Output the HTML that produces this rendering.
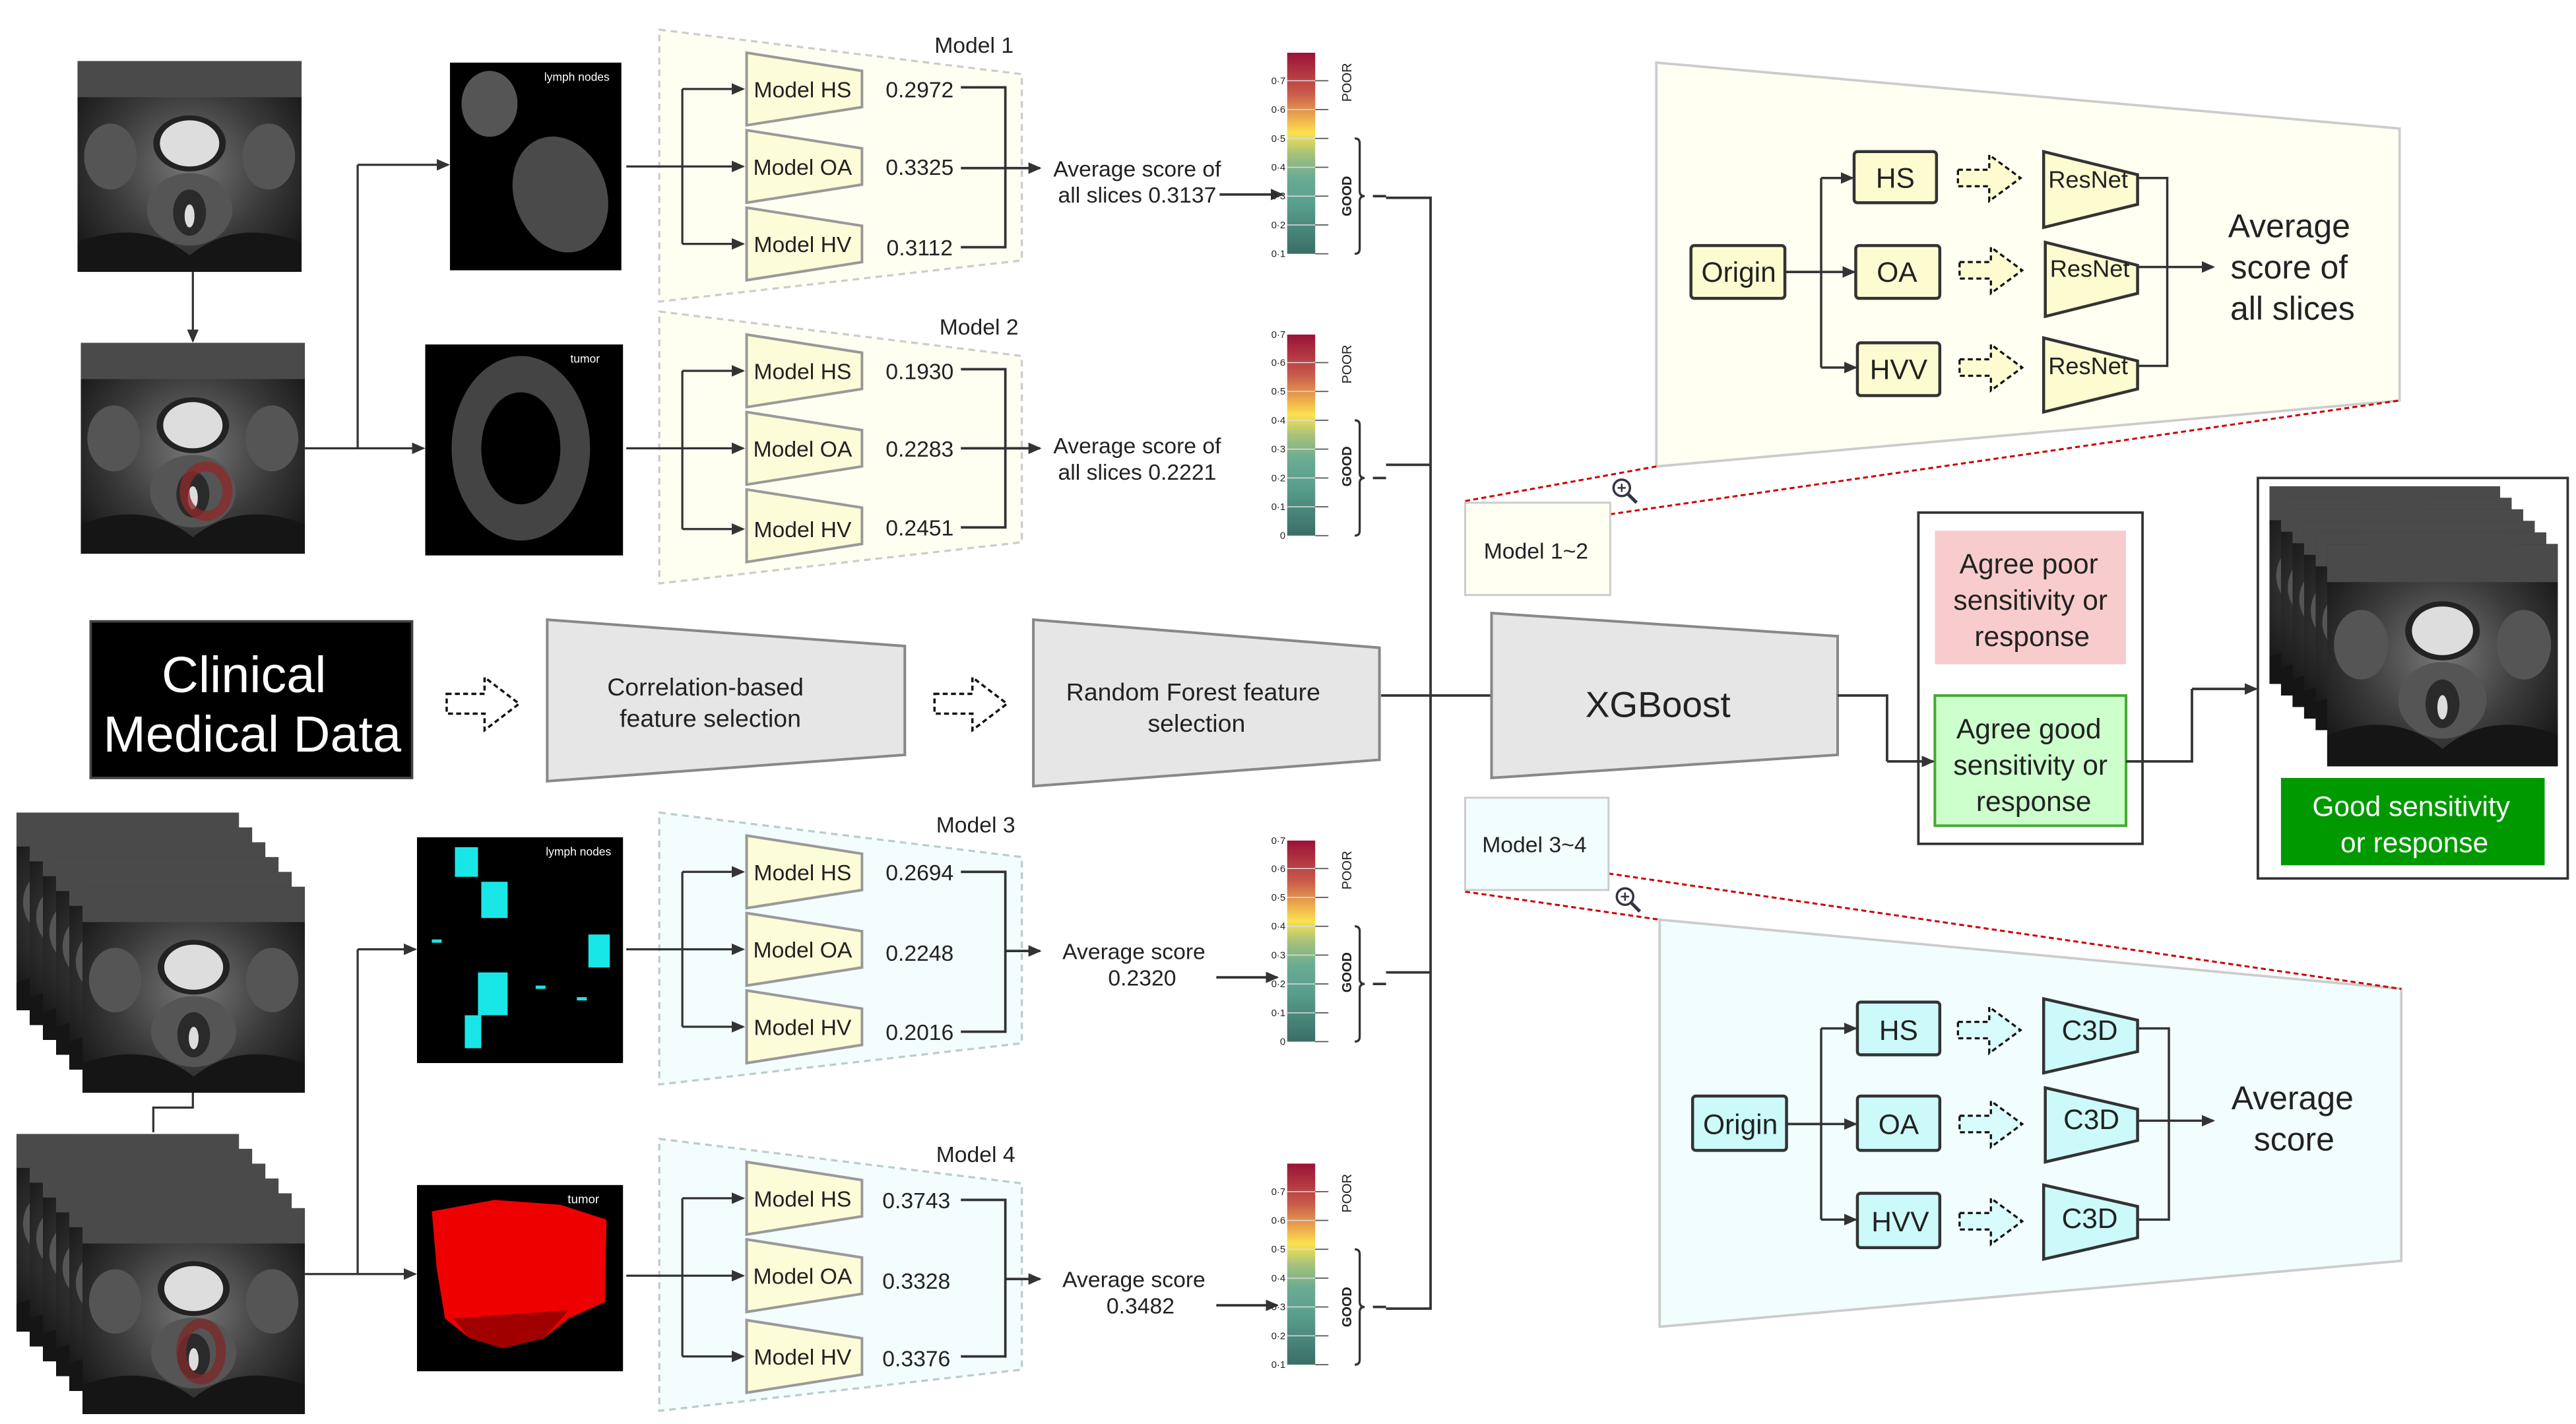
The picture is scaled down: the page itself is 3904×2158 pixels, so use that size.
<!DOCTYPE html>
<html><head><meta charset="utf-8"><style>
html,body{margin:0;padding:0;background:#fff;}
svg{display:block;}
text{font-family:"Liberation Sans",sans-serif;fill:#222;}
</style></head><body>
<svg width="3904" height="2158" viewBox="0 0 1563 864" xmlns="http://www.w3.org/2000/svg">
<defs>
<marker id="ar" markerWidth="8" markerHeight="8" refX="7" refY="4" orient="auto" markerUnits="userSpaceOnUse"><path d="M0,0.5 L8,4 L0,7.5Z" fill="#333"/></marker>
<linearGradient id="cb" x1="0" y1="0" x2="0" y2="1">
<stop offset="0" stop-color="#9b1237"/><stop offset="0.2" stop-color="#c85a4b"/><stop offset="0.33" stop-color="#eeb04d"/><stop offset="0.4" stop-color="#fbe24d"/><stop offset="0.5" stop-color="#a8c27a"/><stop offset="0.62" stop-color="#6aab93"/><stop offset="0.75" stop-color="#5a9f8e"/><stop offset="1" stop-color="#3a6e66"/></linearGradient>
<radialGradient id="mr" cx="0.5" cy="0.5" r="0.6"><stop offset="0" stop-color="#777"/><stop offset="0.6" stop-color="#3a3a3a"/><stop offset="1" stop-color="#1a1a1a"/></radialGradient>
<symbol id="mri" viewBox="0 0 136 128" preserveAspectRatio="none">
<rect width="136" height="128" fill="url(#mr)"/>
<rect width="136" height="22" fill="#4a4a4a"/>
<ellipse cx="20" cy="58" rx="16" ry="20" fill="#555"/><ellipse cx="116" cy="58" rx="16" ry="20" fill="#555"/>
<ellipse cx="68" cy="50" rx="22" ry="17" fill="#222"/><ellipse cx="68" cy="50" rx="18" ry="14" fill="#ddd"/>
<ellipse cx="68" cy="90" rx="26" ry="22" fill="#555"/><ellipse cx="68" cy="92" rx="10" ry="14" fill="#2a2a2a"/><ellipse cx="68" cy="94" rx="3" ry="7" fill="#ddd"/>
<path d="M0,110 Q40,95 68,118 Q96,95 136,110 L136,128 L0,128Z" fill="#151515"/>
</symbol>
<symbol id="bar" viewBox="0 0 60 130" overflow="visible">
<rect x="0" y="0" width="17" height="122" fill="url(#cb)"/>
<g stroke="#ddd" stroke-width="0.6"><line x1="0" y1="17" x2="17" y2="17"/><line x1="0" y1="34.5" x2="17" y2="34.5"/><line x1="0" y1="52" x2="17" y2="52"/><line x1="0" y1="69.5" x2="17" y2="69.5"/><line x1="0" y1="87" x2="17" y2="87"/><line x1="0" y1="104.5" x2="17" y2="104.5"/></g>
<g stroke="#555" stroke-width="0.7"><line x1="17" y1="17" x2="25" y2="17"/><line x1="17" y1="34.5" x2="25" y2="34.5"/><line x1="17" y1="52" x2="25" y2="52"/><line x1="17" y1="69.5" x2="25" y2="69.5"/><line x1="17" y1="87" x2="25" y2="87"/><line x1="17" y1="104.5" x2="25" y2="104.5"/><line x1="17" y1="122" x2="25" y2="122"/></g>
<path d="M41,52 Q44,52 44,55 L44,84 Q44,87 47,87 Q44,87 44,90 L44,119 Q44,122 41,122" fill="none" stroke="#333" stroke-width="1.3"/>
<line x1="52" y1="87" x2="60" y2="87" stroke="#333" stroke-width="1.5"/>
</symbol>
<symbol id="mb" viewBox="0 0 72 46" overflow="visible"><path d="M1,1 L71,12 L71,34 L1,45Z" fill="#fdfcd8" stroke="#999" stroke-width="1.6"/></symbol>
<symbol id="da" viewBox="0 0 46 34" overflow="visible"><path d="M1,11 L24,11 L24,1 L45,17 L24,33 L24,23 L1,23Z" fill="none" stroke="#111" stroke-width="1.4" stroke-dasharray="3,2"/></symbol>
<symbol id="dy" viewBox="0 0 40 30" overflow="visible"><path d="M1,10 L20,10 L20,1 L39,15 L20,29 L20,20 L1,20Z" fill="#fdfcd0" stroke="#111" stroke-width="1.3" stroke-dasharray="3,2"/></symbol>
<symbol id="dc" viewBox="0 0 40 30" overflow="visible"><path d="M1,10 L20,10 L20,1 L39,15 L20,29 L20,20 L1,20Z" fill="#d8fbfb" stroke="#111" stroke-width="1.3" stroke-dasharray="3,2"/></symbol>
</defs>

<use href="#mri" x="47" y="37" width="136" height="128"/>
<use href="#mri" x="49" y="208" width="136" height="128"/>
<ellipse cx="125" cy="298" rx="13" ry="15" fill="none" stroke="#8a2a2a" stroke-width="6" opacity="0.8"/>
<line x1="117" y1="165" x2="117" y2="207" stroke="#333" stroke-width="1.3" marker-end="url(#ar)"/>
<rect x="273" y="38" width="104" height="126" fill="#000"/>
<ellipse cx="297" cy="63" rx="17" ry="20" fill="#555"/><ellipse cx="340" cy="118" rx="28" ry="36" fill="#4a4a4a" transform="rotate(-20 340 118)"/>
<text x="350" y="49" font-size="7" style="fill:#fff" text-anchor="middle">lymph nodes</text>
<rect x="258" y="209" width="120" height="128" fill="#000"/>
<ellipse cx="316" cy="272" rx="42" ry="56" fill="#444"/><ellipse cx="316" cy="272" rx="24" ry="34" fill="#000"/>
<text x="355" y="220" font-size="7" style="fill:#fff" text-anchor="middle">tumor</text>
<path d="M185,272 L217,272 M217,100 L217,272" stroke="#333" stroke-width="1.3" fill="none"/>
<line x1="217" y1="100" x2="272" y2="100" stroke="#333" stroke-width="1.3" marker-end="url(#ar)"/>
<line x1="217" y1="272" x2="257" y2="272" stroke="#333" stroke-width="1.3" marker-end="url(#ar)"/>

<g>
<use href="#mri" x="10" y="493" width="135" height="120"/><use href="#mri" x="18" y="502" width="135" height="120"/><use href="#mri" x="26" y="511" width="135" height="120"/><use href="#mri" x="34" y="520" width="135" height="120"/><use href="#mri" x="42" y="529" width="135" height="120"/><use href="#mri" x="50" y="538" width="135" height="125"/>
<use href="#mri" x="10" y="688" width="135" height="120"/><use href="#mri" x="18" y="697" width="135" height="120"/><use href="#mri" x="26" y="706" width="135" height="120"/><use href="#mri" x="34" y="715" width="135" height="120"/><use href="#mri" x="42" y="724" width="135" height="120"/><use href="#mri" x="50" y="733" width="135" height="125"/>
<ellipse cx="122" cy="820" rx="12" ry="17" fill="none" stroke="#7a2a2a" stroke-width="6" opacity="0.8"/>
</g>
<path d="M117,663 L117,672 L93,672 L93,687" stroke="#333" stroke-width="1.3" fill="none"/>
<path d="M185,773 L217,773 M217,576 L217,773" stroke="#333" stroke-width="1.3" fill="none"/>
<line x1="217" y1="576" x2="252" y2="576" stroke="#333" stroke-width="1.3" marker-end="url(#ar)"/>
<line x1="217" y1="773" x2="252" y2="773" stroke="#333" stroke-width="1.3" marker-end="url(#ar)"/>
<rect x="253" y="508" width="125" height="137" fill="#000"/>
<g fill="#19e6e6"><rect x="276" y="514" width="14" height="18"/><rect x="292" y="535" width="16" height="22"/><rect x="357" y="567" width="13" height="20"/><rect x="290" y="590" width="18" height="26"/><rect x="282" y="616" width="10" height="20"/><rect x="262" y="570" width="6" height="2"/><rect x="325" y="598" width="6" height="2"/><rect x="350" y="605" width="6" height="2"/></g>
<text x="351" y="519" font-size="7" style="fill:#fff" text-anchor="middle">lymph nodes</text>
<rect x="253" y="719" width="125" height="113" fill="#000"/>
<path d="M262,735 L300,728 L340,731 L368,740 L367,790 L345,800 L330,812 L305,818 L285,812 L270,800 L265,770Z" fill="#ee0000"/>
<path d="M275,800 L345,795 L330,812 L305,818 L285,812Z" fill="#a00000"/>
<text x="354" y="730" font-size="7.5" style="fill:#fff" text-anchor="middle">tumor</text>

<g>
<path d="M400,18 L620,45 L620,158 L400,183Z" fill="#fffff1" stroke="#ccc" stroke-width="1.3" stroke-dasharray="4,3"/>
<text x="591" y="32" font-size="13.5" text-anchor="middle">Model 1</text>
<use href="#mb" x="452" y="31" width="72" height="46"/><use href="#mb" x="452" y="78" width="72" height="46"/><use href="#mb" x="452" y="125" width="72" height="46"/>
<text x="487" y="59" font-size="13.5" text-anchor="middle">Model HS</text>
<text x="487" y="106" font-size="13.5" text-anchor="middle">Model OA</text>
<text x="487" y="153" font-size="13.5" text-anchor="middle">Model HV</text>
<text x="558" y="59" font-size="13.5" text-anchor="middle">0.2972</text>
<text x="558" y="106" font-size="13.5" text-anchor="middle">0.3325</text>
<text x="558" y="155" font-size="13.5" text-anchor="middle">0.3112</text>
<path d="M380,101 L414,101 M414,54 L414,148" stroke="#333" stroke-width="1.3" fill="none"/>
<line x1="414" y1="54" x2="451" y2="54" stroke="#333" stroke-width="1.3" marker-end="url(#ar)"/>
<line x1="414" y1="101" x2="451" y2="101" stroke="#333" stroke-width="1.3" marker-end="url(#ar)"/>
<line x1="414" y1="148" x2="451" y2="148" stroke="#333" stroke-width="1.3" marker-end="url(#ar)"/>
<path d="M583,53 L610,53 L610,150 L583,150" stroke="#333" stroke-width="1.5" fill="none"/>
<line x1="583" y1="102" x2="631" y2="102" stroke="#333" stroke-width="1.5" marker-end="url(#ar)"/>
<text x="690" y="107" font-size="13.5" text-anchor="middle">Average score  of</text>
<text x="690" y="123" font-size="13.5" text-anchor="middle">all slices 0.3137</text>
<line x1="740" y1="118" x2="778" y2="118" stroke="#333" stroke-width="1.5" marker-end="url(#ar)"/>
</g>
<g transform="translate(0,171)">
<path d="M400,18 L620,45 L620,158 L400,183Z" fill="#fffff1" stroke="#ccc" stroke-width="1.3" stroke-dasharray="4,3"/>
<text x="594" y="32" font-size="13.5" text-anchor="middle">Model 2</text>
<use href="#mb" x="452" y="31" width="72" height="46"/><use href="#mb" x="452" y="78" width="72" height="46"/><use href="#mb" x="452" y="125" width="72" height="46"/>
<text x="487" y="59" font-size="13.5" text-anchor="middle">Model HS</text>
<text x="487" y="106" font-size="13.5" text-anchor="middle">Model OA</text>
<text x="487" y="155" font-size="13.5" text-anchor="middle">Model HV</text>
<text x="558" y="59" font-size="13.5" text-anchor="middle">0.1930</text>
<text x="558" y="106" font-size="13.5" text-anchor="middle">0.2283</text>
<text x="558" y="154" font-size="13.5" text-anchor="middle">0.2451</text>
<path d="M380,101 L414,101 M414,54 L414,150" stroke="#333" stroke-width="1.3" fill="none"/>
<line x1="414" y1="54" x2="451" y2="54" stroke="#333" stroke-width="1.3" marker-end="url(#ar)"/>
<line x1="414" y1="101" x2="451" y2="101" stroke="#333" stroke-width="1.3" marker-end="url(#ar)"/>
<line x1="414" y1="150" x2="451" y2="150" stroke="#333" stroke-width="1.3" marker-end="url(#ar)"/>
<path d="M583,53 L610,53 L610,149 L583,149" stroke="#333" stroke-width="1.5" fill="none"/>
<line x1="583" y1="101" x2="631" y2="101" stroke="#333" stroke-width="1.5" marker-end="url(#ar)"/>
<text x="690" y="104" font-size="13.5" text-anchor="middle">Average score  of</text>
<text x="690" y="120" font-size="13.5" text-anchor="middle">all slices 0.2221</text>
</g>
<g transform="translate(0,475)">
<path d="M400,18 L620,45 L620,158 L400,183Z" fill="#f3fdfd" stroke="#bcc" stroke-width="1.3" stroke-dasharray="4,3"/>
<text x="592" y="30" font-size="13.5" text-anchor="middle">Model 3</text>
<use href="#mb" x="452" y="31" width="72" height="46"/><use href="#mb" x="452" y="78" width="72" height="46"/><use href="#mb" x="452" y="125" width="72" height="46"/>
<text x="487" y="59" font-size="13.5" text-anchor="middle">Model HS</text>
<text x="487" y="106" font-size="13.5" text-anchor="middle">Model OA</text>
<text x="487" y="153" font-size="13.5" text-anchor="middle">Model HV</text>
<text x="558" y="59" font-size="13.5" text-anchor="middle">0.2694</text>
<text x="558" y="108" font-size="13.5" text-anchor="middle">0.2248</text>
<text x="558" y="156" font-size="13.5" text-anchor="middle">0.2016</text>
<path d="M380,101 L414,101 M414,54 L414,148" stroke="#333" stroke-width="1.3" fill="none"/>
<line x1="414" y1="54" x2="451" y2="54" stroke="#333" stroke-width="1.3" marker-end="url(#ar)"/>
<line x1="414" y1="101" x2="451" y2="101" stroke="#333" stroke-width="1.3" marker-end="url(#ar)"/>
<line x1="414" y1="148" x2="451" y2="148" stroke="#333" stroke-width="1.3" marker-end="url(#ar)"/>
<path d="M583,54 L610,54 L610,151 L583,151" stroke="#333" stroke-width="1.5" fill="none"/>
<line x1="610" y1="102" x2="631" y2="102" stroke="#333" stroke-width="1.5" marker-end="url(#ar)"/>
<text x="688" y="107" font-size="13.5" text-anchor="middle">Average score</text>
<text x="693" y="123" font-size="13.5" text-anchor="middle">0.2320</text>
<line x1="738" y1="118" x2="775" y2="118" stroke="#333" stroke-width="1.5" marker-end="url(#ar)"/>
</g>
<g transform="translate(0,673)">
<path d="M400,18 L620,45 L620,158 L400,183Z" fill="#f3fdfd" stroke="#bcc" stroke-width="1.3" stroke-dasharray="4,3"/>
<text x="592" y="32" font-size="13.5" text-anchor="middle">Model 4</text>
<use href="#mb" x="452" y="31" width="72" height="46"/><use href="#mb" x="452" y="78" width="72" height="46"/><use href="#mb" x="452" y="127" width="72" height="46"/>
<text x="487" y="59" font-size="13.5" text-anchor="middle">Model HS</text>
<text x="487" y="106" font-size="13.5" text-anchor="middle">Model OA</text>
<text x="487" y="155" font-size="13.5" text-anchor="middle">Model HV</text>
<text x="556" y="60" font-size="13.5" text-anchor="middle">0.3743</text>
<text x="556" y="109" font-size="13.5" text-anchor="middle">0.3328</text>
<text x="556" y="156" font-size="13.5" text-anchor="middle">0.3376</text>
<path d="M380,101 L414,101 M414,54 L414,150" stroke="#333" stroke-width="1.3" fill="none"/>
<line x1="414" y1="54" x2="451" y2="54" stroke="#333" stroke-width="1.3" marker-end="url(#ar)"/>
<line x1="414" y1="101" x2="451" y2="101" stroke="#333" stroke-width="1.3" marker-end="url(#ar)"/>
<line x1="414" y1="150" x2="451" y2="150" stroke="#333" stroke-width="1.3" marker-end="url(#ar)"/>
<path d="M583,55 L610,55 L610,150 L583,150" stroke="#333" stroke-width="1.5" fill="none"/>
<line x1="610" y1="103" x2="631" y2="103" stroke="#333" stroke-width="1.5" marker-end="url(#ar)"/>
<text x="688" y="108" font-size="13.5" text-anchor="middle">Average score</text>
<text x="692" y="124" font-size="13.5" text-anchor="middle">0.3482</text>
<line x1="738" y1="119" x2="775" y2="119" stroke="#333" stroke-width="1.5" marker-end="url(#ar)"/>
</g>

<g>
<use href="#bar" x="781" y="32" width="60" height="130"/>
<g font-size="6" fill="#555" text-anchor="end"><text x="780" y="51">0·7</text><text x="780" y="68.5">0·6</text><text x="780" y="86">0·5</text><text x="780" y="103.5">0·4</text><text x="780" y="121">0·3</text><text x="780" y="138.5">0·2</text><text x="780" y="156">0·1</text></g>
<text transform="translate(820,50) rotate(-90)" font-size="8" text-anchor="middle">POOR</text>
<text transform="translate(820,119) rotate(-90)" font-size="8" font-weight="bold" text-anchor="middle">GOOD</text>
</g>
<g transform="translate(0,171)">
<use href="#bar" x="781" y="32" width="60" height="130"/>
<g font-size="6" fill="#555" text-anchor="end"><text x="780" y="34">0·7</text><text x="780" y="51">0·6</text><text x="780" y="68.5">0·5</text><text x="780" y="86">0·4</text><text x="780" y="103.5">0·3</text><text x="780" y="121">0·2</text><text x="780" y="138.5">0·1</text><text x="780" y="156">0</text></g>
<text transform="translate(820,50) rotate(-90)" font-size="8" text-anchor="middle">POOR</text>
<text transform="translate(820,112) rotate(-90)" font-size="8" font-weight="bold" text-anchor="middle">GOOD</text>
</g>
<g transform="translate(0,478)">
<use href="#bar" x="781" y="32" width="60" height="130"/>
<g font-size="6" fill="#555" text-anchor="end"><text x="780" y="34">0·7</text><text x="780" y="51">0·6</text><text x="780" y="68.5">0·5</text><text x="780" y="86">0·4</text><text x="780" y="103.5">0·3</text><text x="780" y="121">0·2</text><text x="780" y="138.5">0·1</text><text x="780" y="156">0</text></g>
<text transform="translate(820,50) rotate(-90)" font-size="8" text-anchor="middle">POOR</text>
<text transform="translate(820,112) rotate(-90)" font-size="8" font-weight="bold" text-anchor="middle">GOOD</text>
</g>
<g transform="translate(0,674)">
<use href="#bar" x="781" y="32" width="60" height="130"/>
<g font-size="6" fill="#555" text-anchor="end"><text x="780" y="51">0·7</text><text x="780" y="68.5">0·6</text><text x="780" y="86">0·5</text><text x="780" y="103.5">0·4</text><text x="780" y="121">0·3</text><text x="780" y="138.5">0·2</text><text x="780" y="156">0·1</text></g>
<text transform="translate(820,50) rotate(-90)" font-size="8" text-anchor="middle">POOR</text>
<text transform="translate(820,119) rotate(-90)" font-size="8" font-weight="bold" text-anchor="middle">GOOD</text>
</g>
<path d="M841,120 L868,120 L868,794 L841,794 M841,282 L868,282 M841,590 L868,590 M838,422 L905,422" stroke="#333" stroke-width="1.5" fill="none"/>

<rect x="55" y="377" width="195" height="95" fill="#000" stroke="#444" stroke-width="1.5"/>
<text x="148" y="420" font-size="31" style="fill:#fff" text-anchor="middle">Clinical</text>
<text x="153" y="456" font-size="31" style="fill:#fff" text-anchor="middle">Medical Data</text>
<use href="#da" x="270" y="410" width="46" height="34"/>
<use href="#da" x="566" y="410" width="46" height="34"/>
<path d="M332,376 L549,392 L549,458 L332,474Z" fill="#e6e6e6" stroke="#888" stroke-width="1.6"/>
<text x="428" y="422" font-size="15" text-anchor="middle">Correlation-based</text>
<text x="431" y="441" font-size="15" text-anchor="middle">feature selection</text>
<path d="M627,376 L837,393 L837,461 L627,477Z" fill="#e6e6e6" stroke="#888" stroke-width="1.6"/>
<text x="724" y="425" font-size="15" text-anchor="middle">Random Forest feature</text>
<text x="726" y="444" font-size="15" text-anchor="middle">selection</text>
<path d="M905,372 L1115,386 L1115,458 L905,472Z" fill="#e6e6e6" stroke="#888" stroke-width="1.6"/>
<text x="1006" y="435" font-size="22" text-anchor="middle">XGBoost</text>

<path d="M1005,38 L1456,78 L1456,243 L1005,283Z" fill="#fffff2" stroke="#ccc" stroke-width="1.5"/>
<line x1="889" y1="304" x2="1005" y2="283" stroke="#c00" stroke-width="1.2" stroke-dasharray="3,2"/>
<line x1="977" y1="312" x2="1456" y2="243" stroke="#c00" stroke-width="1.2" stroke-dasharray="3,2"/>
<rect x="889" y="305" width="88" height="56" fill="#fffff2" stroke="#ccc" stroke-width="1.2"/>
<text x="932" y="339" font-size="13.5" text-anchor="middle">Model 1~2</text>
<circle cx="984" cy="296" r="5" fill="none" stroke="#334" stroke-width="1.4"/><line x1="988" y1="300" x2="993" y2="305" stroke="#334" stroke-width="2"/><path d="M981.5,296 h5 M984,293.5 v5" stroke="#334" stroke-width="1"/>
<g stroke="#333" stroke-width="1.8" fill="#fdfcd0">
<rect x="1026" y="149" width="57" height="32" rx="2"/>
<rect x="1125" y="92" width="50" height="31" rx="2"/>
<rect x="1126" y="149" width="51" height="32" rx="2"/>
<rect x="1127" y="208" width="50" height="32" rx="2"/>
<path d="M1240,92 L1297,106 L1297,124 L1240,138Z"/>
<path d="M1241,147 L1297,161 L1297,178 L1241,192Z"/>
<path d="M1240,205 L1297,219 L1297,236 L1240,250Z"/>
</g>
<use href="#dy" x="1187" y="93" width="40" height="30"/><use href="#dy" x="1188" y="149" width="40" height="30"/><use href="#dy" x="1188" y="208" width="40" height="30"/>
<path d="M1083,165 L1105,165 M1105,108 L1105,223 M1297,108 L1315,108 L1315,222 L1297,222" stroke="#333" stroke-width="1.4" fill="none"/>
<line x1="1105" y1="108" x2="1124" y2="108" stroke="#333" stroke-width="1.4" marker-end="url(#ar)"/>
<line x1="1083" y1="165" x2="1125" y2="165" stroke="#333" stroke-width="1.4" marker-end="url(#ar)"/>
<line x1="1105" y1="223" x2="1126" y2="223" stroke="#333" stroke-width="1.4" marker-end="url(#ar)"/>
<line x1="1297" y1="162" x2="1343" y2="162" stroke="#333" stroke-width="1.4" marker-end="url(#ar)"/>
<g font-size="17" text-anchor="middle"><text x="1055" y="171">Origin</text><text x="1150" y="114">HS</text><text x="1151" y="171">OA</text><text x="1152" y="230">HVV</text></g>
<g font-size="14.5" text-anchor="middle"><text x="1267" y="114">ResNet</text><text x="1268" y="168">ResNet</text><text x="1267" y="227">ResNet</text></g>
<g font-size="20" text-anchor="middle"><text x="1389" y="144">Average</text><text x="1389" y="169">score  of</text><text x="1391" y="194">all slices</text></g>

<path d="M1007,558 L1457,600 L1457,765 L1007,805Z" fill="#f2fdfd" stroke="#ccc" stroke-width="1.5"/>
<line x1="889" y1="541" x2="1007" y2="558" stroke="#c00" stroke-width="1.2" stroke-dasharray="3,2"/>
<line x1="976" y1="530" x2="1457" y2="600" stroke="#c00" stroke-width="1.2" stroke-dasharray="3,2"/>
<rect x="889" y="484" width="87" height="56" fill="#f2fdfd" stroke="#ccc" stroke-width="1.2"/>
<text x="931" y="517" font-size="13.5" text-anchor="middle">Model 3~4</text>
<circle cx="986" cy="544" r="5" fill="none" stroke="#334" stroke-width="1.4"/><line x1="990" y1="548" x2="995" y2="553" stroke="#334" stroke-width="2"/><path d="M983.5,544 h5 M986,541.5 v5" stroke="#334" stroke-width="1"/>
<g stroke="#333" stroke-width="1.8" fill="#ccfafa">
<rect x="1027" y="665" width="57" height="33" rx="2"/>
<rect x="1127" y="608" width="50" height="32" rx="2"/>
<rect x="1127" y="665" width="50" height="33" rx="2"/>
<rect x="1127" y="724" width="50" height="33" rx="2"/>
<path d="M1240,606 L1297,619 L1297,638 L1240,651Z"/>
<path d="M1241,660 L1297,673 L1297,692 L1241,705Z"/>
<path d="M1240,719 L1297,732 L1297,751 L1240,764Z"/>
</g>
<use href="#dc" x="1187" y="610" width="40" height="30"/><use href="#dc" x="1188" y="667" width="40" height="30"/><use href="#dc" x="1188" y="726" width="40" height="30"/>
<path d="M1084,682 L1105,682 M1105,624 L1105,740 M1297,624 L1316,624 L1316,740 L1297,740" stroke="#333" stroke-width="1.4" fill="none"/>
<line x1="1105" y1="624" x2="1126" y2="624" stroke="#333" stroke-width="1.4" marker-end="url(#ar)"/>
<line x1="1084" y1="682" x2="1126" y2="682" stroke="#333" stroke-width="1.4" marker-end="url(#ar)"/>
<line x1="1105" y1="740" x2="1126" y2="740" stroke="#333" stroke-width="1.4" marker-end="url(#ar)"/>
<line x1="1297" y1="680" x2="1343" y2="680" stroke="#333" stroke-width="1.4" marker-end="url(#ar)"/>
<g font-size="17" text-anchor="middle"><text x="1056" y="688">Origin</text><text x="1152" y="631">HS</text><text x="1152" y="688">OA</text><text x="1153" y="747">HVV</text><text x="1268" y="631">C3D</text><text x="1269" y="685">C3D</text><text x="1268" y="745">C3D</text></g>
<g font-size="20" text-anchor="middle"><text x="1391" y="673">Average</text><text x="1392" y="698">score</text></g>

<rect x="1164" y="311" width="136" height="201" fill="#fff" stroke="#333" stroke-width="1.5"/>
<rect x="1174" y="322" width="116" height="81" fill="#f8cccc"/>
<text x="1231" y="348" font-size="17" text-anchor="middle">Agree poor</text>
<text x="1232" y="370" font-size="17" text-anchor="middle">sensitivity or</text>
<text x="1233" y="392" font-size="17" text-anchor="middle">response</text>
<rect x="1174" y="422" width="116" height="79" fill="#ccffcc" stroke="#44aa33" stroke-width="1.6"/>
<text x="1231" y="448" font-size="17" text-anchor="middle">Agree good</text>
<text x="1232" y="470" font-size="17" text-anchor="middle">sensitivity or</text>
<text x="1234" y="492" font-size="17" text-anchor="middle">response</text>
<path d="M1115,422 L1145,422 L1145,462" stroke="#333" stroke-width="1.5" fill="none"/>
<line x1="1145" y1="462" x2="1173" y2="462" stroke="#333" stroke-width="1.5" marker-end="url(#ar)"/>
<path d="M1290,462 L1330,462 L1330,418" stroke="#333" stroke-width="1.5" fill="none"/>
<line x1="1330" y1="418" x2="1369" y2="418" stroke="#333" stroke-width="1.5" marker-end="url(#ar)"/>

<rect x="1370" y="290" width="188" height="243" fill="#fff" stroke="#333" stroke-width="1.5"/>
<use href="#mri" x="1377" y="295" width="140" height="120"/><use href="#mri" x="1384" y="302" width="140" height="120"/><use href="#mri" x="1391" y="309" width="140" height="120"/><use href="#mri" x="1398" y="316" width="140" height="120"/><use href="#mri" x="1405" y="323" width="140" height="120"/><use href="#mri" x="1412" y="330" width="140" height="135"/>
<rect x="1384" y="472" width="160" height="53" fill="#009900"/>
<text x="1463" y="495" font-size="17" style="fill:#fff" text-anchor="middle">Good sensitivity</text>
<text x="1465" y="517" font-size="17" style="fill:#fff" text-anchor="middle">or response</text>
</svg>
</body></html>
